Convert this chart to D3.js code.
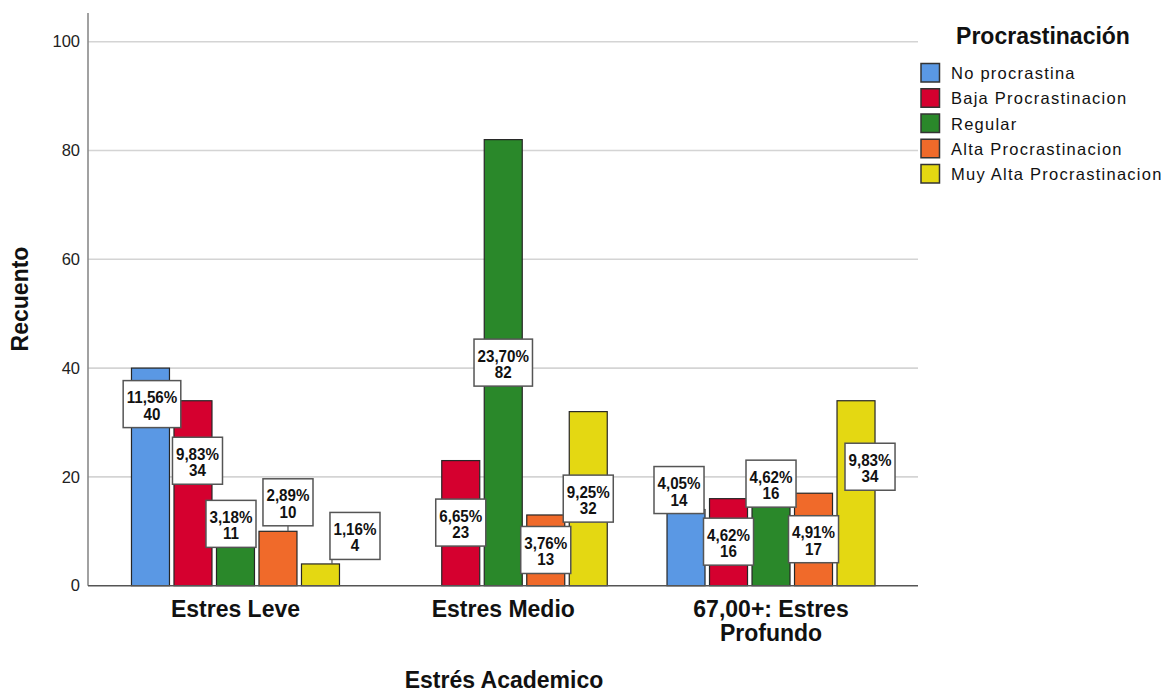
<!DOCTYPE html>
<html>
<head>
<meta charset="utf-8">
<script src="https://cdn.jsdelivr.net/npm/d3@7"></script>
<style>
  body { margin: 0; background: #fff; }
  svg { display: block; font-family: "Liberation Sans", Arial, Helvetica, sans-serif; }
</style>
</head>
<body>
<svg id="chart" width="1166" height="692"></svg>
<script>
// ---- data ----
const categories = ["Estres Leve", "Estres Medio", "67,00+: Estres Profundo"];
const categoryLines = [["Estres Leve"], ["Estres Medio"], ["67,00+: Estres", "Profundo"]];
const series = ["No procrastina", "Baja Procrastinacion", "Regular", "Alta Procrastinacion", "Muy Alta Procrastinacion"];
const countsLeve = [40, 34, 11, 10, 4];
const countsMedio = [null, 23, 82, 13, 32];
const countsProfundo = [14, 16, 16, 17, 34];
const yTicks = [0, 20, 40, 60, 80, 100];

// ---- styling / layout ----
const seriesColors = ["#5a98e4", "#d5002f", "#2a882a", "#f06a2a", "#e4d812"];
// offset (px) of each value box centre from the top-centre of its bar
const nudgeLeve = [[1.5, 36], [4.5, 60], [-4.5, -2], [10, -29], [34.5, -28]];
const nudgeMedio = [null, [0, 62], [0, 223], [0, 35], [0, 87]];
const nudgeProfundo = [[-7, -19.5], [0, 43], [0, -15], [0, 46], [14, 66]];

const countsByGroup = [countsLeve, countsMedio, countsProfundo];
const nudgesByGroup = [nudgeLeve, nudgeMedio, nudgeProfundo];
const total = d3.sum(countsByGroup.flat().filter(v => v != null));

const svg = d3.select("#chart");
const plot = { left: 88, right: 918, top: 13, bottom: 586 };

const y = d3.scaleLinear().domain([0, 100]).range([585.7, 41.7]);
const x0 = d3.scaleBand().domain(categories).range([101.6, 904.9]).padding(0);
const x1 = d3.scaleBand().domain(series).range([0, 208]).paddingInner(0.106).paddingOuter(0);
const color = d3.scaleOrdinal().domain(series).range(seriesColors);

// gridlines
svg.append("g")
  .selectAll("line")
  .data(yTicks.filter(t => t > 0))
  .join("line")
  .attr("x1", plot.left).attr("x2", plot.right)
  .attr("y1", d => y(d)).attr("y2", d => y(d))
  .attr("stroke", "#d4d4d4").attr("stroke-width", 1.6);

// y axis
const yAxis = svg.append("g")
  .attr("transform", `translate(${plot.left},0)`)
  .call(d3.axisLeft(y).tickValues(yTicks).tickSize(0).tickPadding(8));
yAxis.select(".domain").remove();
yAxis.selectAll("text")
  .attr("font-family", "'Liberation Sans', Arial, sans-serif")
  .attr("font-size", 16.5).attr("fill", "#222");
svg.append("line")
  .attr("x1", plot.left).attr("x2", plot.left)
  .attr("y1", plot.top).attr("y2", y(0))
  .attr("stroke", "#8a8a8a").attr("stroke-width", 1.6);

// bars
const rows = [];
categories.forEach((c, gi) => {
  series.forEach((s, si) => {
    const v = countsByGroup[gi][si];
    if (v == null) return;
    rows.push({ cat: c, ser: s, value: v, nudge: nudgesByGroup[gi][si] });
  });
});
const groupOffset = c => x0(c) + x0.bandwidth() / 2 - 104;

svg.append("g")
  .selectAll("rect")
  .data(rows)
  .join("rect")
  .attr("x", d => groupOffset(d.cat) + x1(d.ser))
  .attr("y", d => y(d.value))
  .attr("width", x1.bandwidth())
  .attr("height", d => y(0) - y(d.value))
  .attr("fill", d => color(d.ser))
  .attr("stroke", "#262626").attr("stroke-width", 1.2);

// x baseline
svg.append("line")
  .attr("x1", plot.left).attr("x2", plot.right)
  .attr("y1", y(0)).attr("y2", y(0))
  .attr("stroke", "#555").attr("stroke-width", 1.4);

// value boxes (percentage of total over count)
const fmtPct = v => (v / total * 100).toFixed(2).replace(".", ",") + "%";
const squeeze = 0.92;
const labelG = svg.append("g");
rows.forEach(d => {
  const barL = groupOffset(d.cat) + x1(d.ser);
  const barR = barL + x1.bandwidth();
  const cx = barL + x1.bandwidth() / 2 + d.nudge[0];
  const cy = y(d.value) + d.nudge[1];
  const g = labelG.append("g");
  const rect = g.append("rect");
  const tg = g.append("g").attr("transform", `translate(${cx},${cy}) scale(${squeeze},1)`);
  const t1 = tg.append("text").attr("x", 0).attr("y", -1)
    .attr("text-anchor", "middle").attr("font-weight", "bold").attr("font-size", 16.5)
    .attr("fill", "#111").text(fmtPct(d.value));
  const t2 = tg.append("text").attr("x", 0).attr("y", 15.5)
    .attr("text-anchor", "middle").attr("font-weight", "bold").attr("font-size", 16.5)
    .attr("fill", "#111").text(d.value);
  const w = Math.max(t1.node().getComputedTextLength(), t2.node().getComputedTextLength()) * squeeze + 7;
  const h = 47;
  const boxL = cx - w / 2, boxR = cx + w / 2, boxB = cy + h / 2;
  rect.attr("x", boxL).attr("y", cy - h / 2).attr("width", w).attr("height", h)
    .attr("fill", "#fff").attr("stroke", "#555").attr("stroke-width", 1.5);
  // leader from box to bar when the box sits above the bar
  if (boxB < y(d.value) - 1) {
    const ovL = Math.max(barL, boxL) + 2, ovR = Math.min(barR, boxR) - 2;
    const lx = cx > barR ? ovL : Math.max(ovL, Math.min(ovR, cx));
    g.insert("line", "rect")
      .attr("x1", lx).attr("x2", lx).attr("y1", boxB).attr("y2", y(d.value))
      .attr("stroke", "#555").attr("stroke-width", 1.2);
  }
});

// category labels
const catG = svg.append("g");
categories.forEach((c, i) => {
  const cx = x0(c) + x0.bandwidth() / 2;
  const t = catG.append("text")
    .attr("x", cx).attr("y", 617)
    .attr("text-anchor", "middle")
    .attr("font-size", 23).attr("font-weight", "bold").attr("fill", "#111");
  categoryLines[i].forEach((line, li) => {
    t.append("tspan").attr("x", cx).attr("dy", li === 0 ? 0 : 23.5).text(line);
  });
});

// axis titles
svg.append("text")
  .attr("x", 504).attr("y", 688)
  .attr("text-anchor", "middle").attr("font-size", 23).attr("font-weight", "bold").attr("fill", "#111")
  .text("Estrés Academico");
svg.append("text")
  .attr("transform", "translate(28,299) rotate(-90)")
  .attr("text-anchor", "middle").attr("font-size", 23).attr("font-weight", "bold").attr("fill", "#111")
  .text("Recuento");

// legend
const legend = svg.append("g");
legend.append("text")
  .attr("x", 1043).attr("y", 44)
  .attr("text-anchor", "middle").attr("font-size", 23).attr("font-weight", "bold").attr("fill", "#111")
  .text("Procrastinación");
const item = legend.selectAll("g.item")
  .data(series)
  .join("g").attr("class", "item")
  .attr("transform", (d, i) => `translate(921,${72.5 + i * 25.25})`);
item.append("rect")
  .attr("x", 0).attr("y", -9).attr("width", 18.5).attr("height", 18.5)
  .attr("fill", d => color(d)).attr("stroke", "#333").attr("stroke-width", 1.5);
item.append("text")
  .attr("x", 30).attr("y", 6.5)
  .attr("font-size", 16.5).attr("letter-spacing", 1.25).attr("fill", "#111")
  .text(d => d);
</script>
</body>
</html>
